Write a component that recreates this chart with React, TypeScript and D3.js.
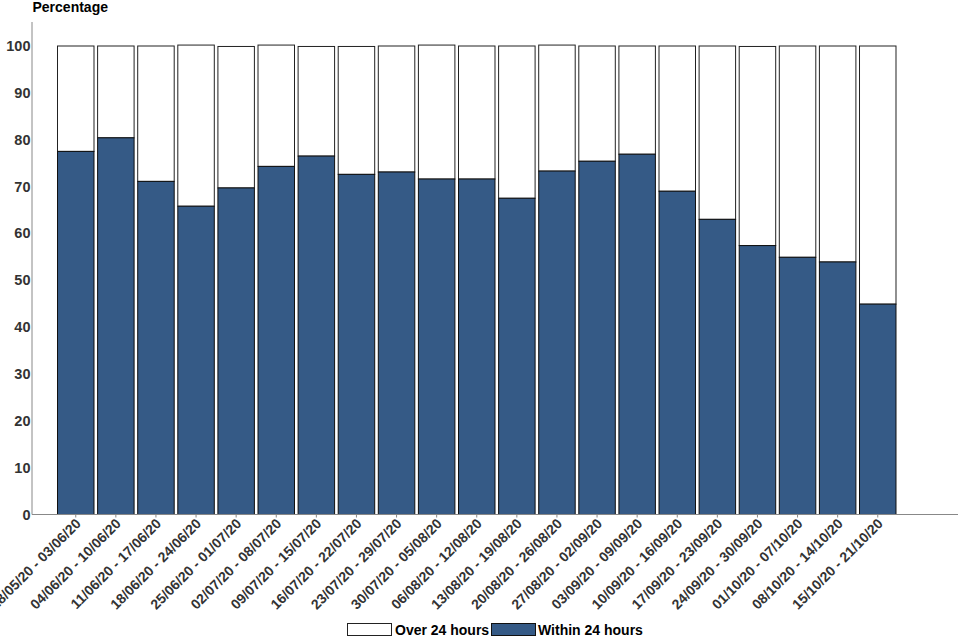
import React from "react";
import * as d3 from "d3";

const categories = [
  "28/05/20 - 03/06/20",
  "04/06/20 - 10/06/20",
  "11/06/20 - 17/06/20",
  "18/06/20 - 24/06/20",
  "25/06/20 - 01/07/20",
  "02/07/20 - 08/07/20",
  "09/07/20 - 15/07/20",
  "16/07/20 - 22/07/20",
  "23/07/20 - 29/07/20",
  "30/07/20 - 05/08/20",
  "06/08/20 - 12/08/20",
  "13/08/20 - 19/08/20",
  "20/08/20 - 26/08/20",
  "27/08/20 - 02/09/20",
  "03/09/20 - 09/09/20",
  "10/09/20 - 16/09/20",
  "17/09/20 - 23/09/20",
  "24/09/20 - 30/09/20",
  "01/10/20 - 07/10/20",
  "08/10/20 - 14/10/20",
  "15/10/20 - 21/10/20",
];

const within24 = [
  77.5, 80.4, 71.1, 65.8, 69.7, 74.3, 76.5, 72.6, 73.1, 71.6, 71.6, 67.5,
  73.3, 75.4, 76.9, 69.0, 63.0, 57.4, 54.9, 53.9, 44.9,
];

const over24 = [
  22.5, 19.6, 28.9, 34.4, 30.2, 25.9, 23.4, 27.3, 26.9, 28.6, 28.4, 32.5,
  26.9, 24.6, 23.1, 31.0, 37.0, 42.5, 45.1, 46.1, 55.1,
];

const yTicks = [0, 10, 20, 30, 40, 50, 60, 70, 80, 90, 100];

const seriesNames = ["Over 24 hours", "Within 24 hours"];

const BLUE = "#355a86";
const TEXT = "#333333";
const FONT = "'Liberation Sans', Arial, sans-serif";

export default function App() {
  const W = 960;
  const H = 640;
  const axisX = 32;
  const axisY = 514.5;

  const x = d3
    .scaleBand<string>()
    .domain(categories)
    .range([55.7, 897.8])
    .paddingInner(0.09)
    .paddingOuter(0.045);

  const y = d3.scaleLinear().domain([0, 100]).range([axisY, 46]);

  return (
    <svg
      width={W}
      height={H}
      style={{ position: "absolute", left: 0, top: 0, background: "#fff" }}
      fontFamily={FONT}
    >
      <rect x={0} y={0} width={W} height={H} fill="#fff" />
      {/* title */}
      <text x={32.5} y={12} fontSize={14} fontWeight="bold" fill="#000">
        Percentage
      </text>

      {/* y ticks */}
      {yTicks.map((t) => (
        <text
          key={t}
          x={30.5}
          y={y(t)}
          dy="0.35em"
          textAnchor="end"
          fontSize={14.5}
          fontWeight="bold"
          fill={TEXT}
        >
          {t}
        </text>
      ))}

      {/* bars */}
      {categories.map((c, i) => {
        const bx = x(c)!;
        const bw = x.bandwidth();
        const w = within24[i];
        const o = over24[i];
        return (
          <g key={c}>
            <rect
              x={bx}
              y={y(w + o)}
              width={bw}
              height={y(w) - y(w + o)}
              fill="#fff"
              stroke="#222"
              strokeWidth={1}
            />
            <rect
              x={bx}
              y={y(w)}
              width={bw}
              height={y(0) - y(w)}
              fill={BLUE}
              stroke="#111"
              strokeWidth={1}
            />
          </g>
        );
      })}

      {/* axes */}
      <line x1={axisX} x2={axisX} y1={22} y2={axisY} stroke="#888" strokeWidth={1} />
      <line x1={axisX} x2={958} y1={axisY} y2={axisY} stroke="#888" strokeWidth={1} />

      {/* x ticks and labels */}
      {categories.map((c) => {
        const cx = x(c)! + x.bandwidth() / 2;
        return (
          <g key={"t" + c}>
            <line x1={cx} x2={cx} y1={axisY} y2={axisY + 3} stroke="#888" />
            <text
              transform={`translate(${cx + 6},${axisY + 10}) rotate(-45)`}
              textAnchor="end"
              fontSize={14}
              fontWeight="bold"
              fill={TEXT}
            >
              {c}
            </text>
          </g>
        );
      })}

      {/* legend */}
      <rect x={347.5} y={623.5} width={44} height={12} fill="#fff" stroke="#222" />
      <text x={395} y={635} fontSize={14} fontWeight="bold" fill="#000">
        {seriesNames[0]}
      </text>
      <rect x={491.5} y={623.5} width={44} height={12} fill={BLUE} stroke="#111" />
      <text x={538} y={635} fontSize={14} fontWeight="bold" fill="#000">
        {seriesNames[1]}
      </text>
    </svg>
  );
}
